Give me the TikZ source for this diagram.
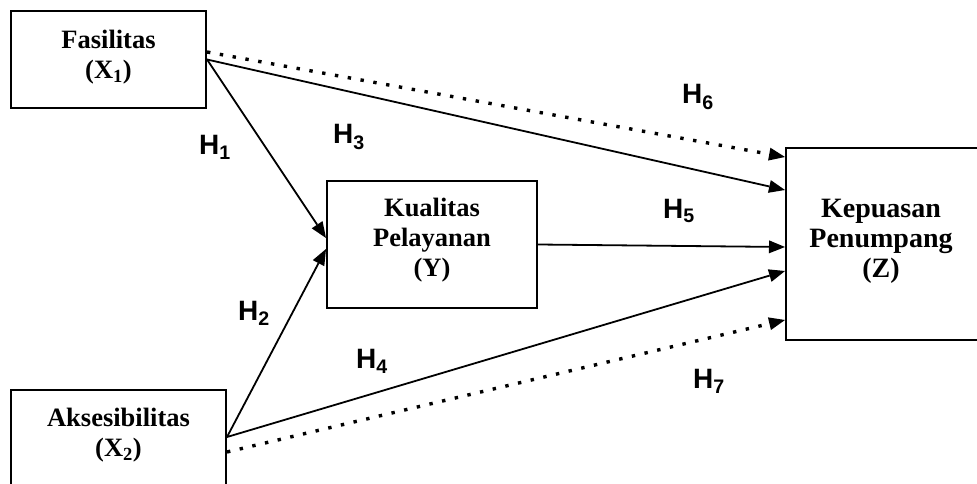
\documentclass[tikz,border=0pt]{standalone}
\usepackage{fontspec}
\setmainfont{Liberation Serif}
\newfontfamily\labelfont{Liberation Sans}
\usetikzlibrary{arrows.meta}
\begin{document}
\begin{tikzpicture}[x=1pt,y=-1pt,
  box/.style={draw, line width=2pt, rectangle, inner sep=0pt},
  boxtext/.style={font=\fontsize{26.5}{30}\selectfont\bfseries, align=center, inner sep=0pt},
  boxtextz/.style={font=\fontsize{28}{30}\selectfont\bfseries, align=center, inner sep=0pt},
  hlabel/.style={font=\labelfont\fontsize{28}{32}\selectfont\bfseries, inner sep=0pt},
  arr/.style={line width=1.8pt, -{Triangle[length=16pt,width=13pt,line width=0pt]}},
  dotarr/.style={line width=3.4pt, dash pattern=on 3.4pt off 9.6pt, -{Triangle[length=16pt,width=13pt,line width=0pt]}},
]
\useasboundingbox (0,0) rectangle (977,484);

% boxes
\node[box, minimum width=195pt, minimum height=97pt] (x1) at (108.5,59.5) {};
\node[box, minimum width=210pt, minimum height=127pt] (y) at (432,244.5) {};
\node[box, minimum width=194pt, minimum height=192pt] (z) at (883,244) {};
\node[box, minimum width=215pt, minimum height=110pt] (x2) at (118.5,445) {};

% box texts
\node[boxtext] (tx1) at (108.5,57) {Fasilitas\\(X\textsubscript{1})};
\node[boxtext] (ty) at (432,240) {Kualitas\\Pelayanan\\(Y)};
\node[boxtextz] (tz) at (881,241) {Kepuasan\\Penumpang\\(Z)};
\node[boxtext] (tx2) at (118.5,435) {Aksesibilitas\\(X\textsubscript{2})};

% connectors
\draw[dotarr] ([yshift=7.5pt]x1.east) -- ([yshift=87pt]z.west);
\draw[arr] (x1.east) -- ([yshift=54pt]z.west);
\draw[arr] (x1.east) -- ([yshift=6.5pt]y.west);
\draw[arr] ([yshift=8pt]x2.east) -- ([yshift=-4.5pt]y.west);
\draw[arr] (y.east) -- ([yshift=-3pt]z.west);
\draw[arr] ([yshift=8pt]x2.east) -- ([yshift=-27pt]z.west);
\draw[dotarr] ([yshift=-7pt]x2.east) -- ([yshift=-76pt]z.west);

% hypothesis labels
\node[hlabel] (h1) at (215,147) {H\textsubscript{1}};
\node[hlabel] (h2) at (254,313) {H\textsubscript{2}};
\node[hlabel] (h3) at (349,137) {H\textsubscript{3}};
\node[hlabel] (h4) at (372,361) {H\textsubscript{4}};
\node[hlabel] (h5) at (679,211) {H\textsubscript{5}};
\node[hlabel] (h6) at (698,97) {H\textsubscript{6}};
\node[hlabel] (h7) at (709,381) {H\textsubscript{7}};
\end{tikzpicture}
\end{document}
